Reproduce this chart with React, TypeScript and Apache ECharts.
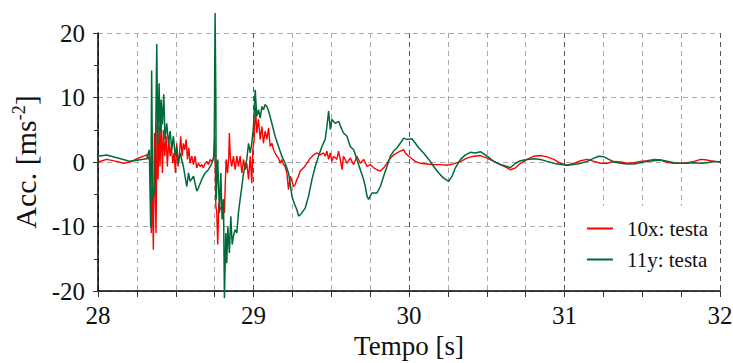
import React, { useEffect, useRef } from "react";
import * as echarts from "echarts";

const xTicks = [28, 29, 30, 31, 32];
const yTicks = [-20, -10, 0, 10, 20];

const series10x: [number, number][] = [
  [28.0, 0.0], [28.056, 0.4], [28.12, 0.1], [28.163, -0.2], [28.206, 0.0], [28.249, 0.5],
  [28.292, 0.9], [28.313, 1.1], [28.324, 0.4], [28.33, 0.9], [28.337, -0.2], [28.343, -11.0],
  [28.35, -3.8], [28.356, -13.6], [28.363, 4.5], [28.369, -5.8], [28.373, -11.0], [28.38, 6.0],
  [28.386, -2.7], [28.393, 5.5], [28.399, -0.7], [28.406, 6.6], [28.414, -1.7], [28.421, 5.0],
  [28.429, 0.9], [28.438, 4.0], [28.446, -0.7], [28.455, 3.5], [28.464, 0.9], [28.472, 2.4],
  [28.481, -0.2], [28.489, 1.4], [28.498, -1.7], [28.506, 2.9], [28.515, -0.7], [28.524, 1.4],
  [28.532, 4.0], [28.541, 0.9], [28.549, 2.9], [28.558, 1.9], [28.567, 3.5], [28.575, 0.4],
  [28.584, 2.2], [28.592, -0.2], [28.603, 0.9], [28.614, -0.4], [28.624, 0.9], [28.635, -0.9],
  [28.646, -0.2], [28.657, -0.7], [28.667, -0.4], [28.678, -0.9], [28.689, -0.2], [28.7, 0.1],
  [28.71, -0.4], [28.721, 0.4], [28.732, 0.1], [28.742, 0.4], [28.751, 4.0], [28.758, -6.9],
  [28.764, -7.9], [28.77, -12.8], [28.777, -6.4], [28.785, -7.4], [28.796, -6.9], [28.807, -5.8],
  [28.813, -7.9], [28.818, -3.8], [28.824, 0.4], [28.833, -1.7], [28.841, 0.9], [28.845, 4.5],
  [28.852, 0.4], [28.86, -0.7], [28.871, 0.9], [28.882, -1.2], [28.893, 0.9], [28.903, -0.7],
  [28.914, 0.9], [28.925, -1.7], [28.936, 0.4], [28.946, -1.2], [28.957, -0.2], [28.968, -2.7],
  [28.979, 0.9], [28.989, -3.3], [28.996, 1.9], [29.004, 3.5], [29.013, 8.6], [29.021, 4.5],
  [29.032, 6.6], [29.043, 3.5], [29.054, 5.5], [29.064, 2.9], [29.075, 4.8], [29.086, 3.5],
  [29.097, 5.3], [29.107, 2.4], [29.118, 2.9], [29.129, 1.9], [29.139, 1.4], [29.15, 0.9],
  [29.161, 0.6], [29.172, -0.2], [29.182, 0.4], [29.193, -0.4], [29.204, -0.7], [29.215, -1.7],
  [29.225, -4.3], [29.236, -2.2], [29.247, -3.0], [29.258, -3.8], [29.268, -3.5], [29.279, -2.7],
  [29.29, -2.2], [29.3, -1.4], [29.322, -0.9], [29.343, -0.2], [29.365, 0.6], [29.386, 1.1],
  [29.408, 1.4], [29.429, 1.1], [29.451, 1.4], [29.461, 0.9], [29.472, 1.7], [29.483, 0.4],
  [29.494, 1.4], [29.504, 0.1], [29.515, 0.9], [29.536, 0.4], [29.547, 1.7], [29.558, 0.4],
  [29.569, -1.2], [29.579, 0.9], [29.601, -0.2], [29.622, 0.6], [29.644, -0.4], [29.665, 0.9],
  [29.687, -0.2], [29.708, 0.4], [29.73, -0.7], [29.751, -0.4], [29.773, -0.9], [29.794, -1.2],
  [29.816, -1.4], [29.837, -0.9], [29.858, -0.2], [29.88, 0.6], [29.901, 1.1], [29.923, 1.4],
  [29.944, 1.7], [29.966, 1.9], [29.976, 1.4], [29.998, 0.9], [30.019, 0.5], [30.041, 0.1],
  [30.073, -0.2], [30.116, -0.3], [30.159, -0.4], [30.202, -0.4], [30.245, -0.5], [30.288, -0.3],
  [30.331, 0.1], [30.373, 0.6], [30.416, 0.9], [30.459, 1.0], [30.502, 0.6], [30.545, 0.1],
  [30.588, -0.4], [30.631, -0.9], [30.652, -1.2], [30.685, -0.9], [30.717, -0.2], [30.76, 0.4],
  [30.803, 0.9], [30.846, 1.0], [30.888, 0.8], [30.931, 0.4], [30.974, -0.2], [31.017, -0.5],
  [31.06, -0.2], [31.103, 0.2], [31.146, 0.4], [31.189, 0.1], [31.232, -0.2], [31.275, -0.2],
  [31.318, 0.1], [31.361, 0.0], [31.403, -0.2], [31.446, -0.1], [31.489, 0.1], [31.532, 0.2],
  [31.575, 0.4], [31.618, 0.3], [31.661, -0.1], [31.704, -0.2], [31.747, -0.2], [31.79, -0.1],
  [31.833, 0.1], [31.876, 0.4], [31.918, 0.3], [31.961, 0.1], [32.0, 0.0],
];

const series11y: [number, number][] = [
  [28.0, 0.9], [28.056, 1.1], [28.163, 0.4], [28.206, 0.1], [28.313, 0.5], [28.33, 1.9],
  [28.339, -10.2], [28.345, 14.2], [28.352, -5.8], [28.367, -3.8], [28.378, 18.3], [28.384, 2.9],
  [28.393, 12.2], [28.399, 4.5], [28.406, 9.7], [28.414, 5.8], [28.423, 10.5], [28.431, 3.5],
  [28.442, 6.0], [28.453, 2.9], [28.464, 4.8], [28.474, 1.9], [28.485, 4.0], [28.496, 0.9],
  [28.506, 2.4], [28.517, -0.2], [28.528, 1.4], [28.549, -0.7], [28.571, -3.8], [28.582, -1.7],
  [28.592, -3.0], [28.614, -2.2], [28.635, -4.5], [28.646, -4.0], [28.667, -2.7], [28.689, -1.7],
  [28.71, -1.2], [28.732, -0.2], [28.747, 0.9], [28.753, 23.1], [28.758, 9.7], [28.76, -5.8],
  [28.77, 0.4], [28.781, -7.9], [28.79, -1.7], [28.798, -8.9], [28.807, -5.8], [28.813, -21.1],
  [28.822, -11.0], [28.828, -15.7], [28.835, -10.0], [28.845, -14.1], [28.854, -8.4], [28.863, -12.8],
  [28.871, -11.5], [28.882, -10.5], [28.893, -11.0], [28.903, -7.9], [28.914, -5.8], [28.925, -3.8],
  [28.936, -1.7], [28.957, 0.4], [28.968, 2.9], [28.979, 1.4], [28.989, 2.9], [29.0, 5.5],
  [29.011, 11.2], [29.021, 7.1], [29.032, 8.1], [29.043, 6.8], [29.054, 8.6], [29.064, 8.1],
  [29.075, 8.9], [29.086, 8.6], [29.097, 7.9], [29.118, 6.0], [29.139, 4.0], [29.161, 2.4],
  [29.182, 0.9], [29.204, -0.2], [29.225, -1.7], [29.236, -3.3], [29.247, -5.3], [29.262, -6.4],
  [29.279, -7.4], [29.29, -8.4], [29.311, -7.9], [29.333, -7.1], [29.354, -5.3], [29.376, -2.7],
  [29.397, -0.7], [29.418, 0.9], [29.44, 2.4], [29.461, 3.5], [29.472, 5.5], [29.483, 7.9],
  [29.494, 5.0], [29.504, 6.6], [29.526, 6.0], [29.547, 6.3], [29.569, 5.0], [29.579, 4.5],
  [29.601, 4.0], [29.622, 2.4], [29.644, 1.9], [29.665, 0.4], [29.687, -1.2], [29.708, -2.7],
  [29.719, -3.8], [29.73, -5.3], [29.74, -5.8], [29.762, -4.8], [29.794, -4.8], [29.816, -3.8],
  [29.837, -2.2], [29.858, -0.7], [29.88, 0.9], [29.901, 1.7], [29.923, 2.2], [29.944, 2.9],
  [29.966, 3.7], [29.987, 3.5], [30.019, 3.6], [30.041, 2.9], [30.062, 2.2], [30.094, 1.4],
  [30.127, 0.4], [30.159, -0.7], [30.191, -1.7], [30.223, -2.5], [30.255, -3.0], [30.277, -2.2],
  [30.298, -0.9], [30.331, 0.4], [30.363, 1.1], [30.395, 1.5], [30.427, 1.4], [30.459, 1.6],
  [30.502, 0.9], [30.545, 0.1], [30.588, -0.4], [30.631, -0.7], [30.652, -0.9], [30.685, -0.2],
  [30.717, 0.2], [30.76, 0.4], [30.803, 0.5], [30.846, 0.4], [30.888, 0.1], [30.931, -0.2],
  [30.974, -0.4], [31.017, -0.5], [31.06, -0.4], [31.103, -0.2], [31.146, 0.1], [31.189, 0.6],
  [31.221, 0.9], [31.253, 0.8], [31.285, 0.4], [31.318, 0.0], [31.361, -0.2], [31.403, -0.3],
  [31.446, -0.3], [31.489, -0.1], [31.532, 0.1], [31.575, 0.2], [31.618, 0.3], [31.661, 0.1],
  [31.704, -0.1], [31.747, -0.2], [31.79, -0.2], [31.833, -0.1], [31.876, -0.2], [31.918, -0.1],
  [31.961, 0.1], [32.0, 0.0],
];

const seriesNames = ["10x: testa", "11y: testa"];
const seriesColors = ["#ff0000", "#006b38"];

const FONT = "Liberation Serif";

export default function App() {
  const ref = useRef<HTMLDivElement>(null);

  useEffect(() => {
    document.body.style.margin = "0";
    if (!ref.current) return;
    const chart = echarts.init(ref.current, null, { renderer: "svg" });
    chart.setOption({
      animation: false,
      backgroundColor: "#ffffff",
      textStyle: { fontFamily: FONT },
      grid: { left: 98, right: 13, top: 33, bottom: 72, containLabel: false, outerBoundsMode: "none" },
      legend: {
        orient: "vertical",
        right: 16,
        bottom: 73,
        backgroundColor: "#ffffff",
        padding: [12, 9, 20, 21],
        itemGap: 10,
        itemWidth: 26,
        itemHeight: 2,
        icon: "rect",
        data: seriesNames,
        textStyle: { fontFamily: FONT, fontSize: 21, color: "#111", padding: [0, 0, 0, 9] },
      },
      xAxis: {
        type: "value",
        min: xTicks[0],
        max: xTicks[xTicks.length - 1],
        interval: 1,
        name: "Tempo [s]",
        nameLocation: "middle",
        nameGap: 40,
        nameTextStyle: { fontFamily: FONT, fontSize: 27, color: "#111" },
        axisLine: { show: true, onZero: false, lineStyle: { color: "#000", width: 1.5 } },
        axisTick: { show: true, length: 6, lineStyle: { color: "#333" } },
        minorTick: { show: true, splitNumber: 4, length: 6, lineStyle: { color: "#333" } },
        axisLabel: { fontFamily: FONT, fontSize: 25, color: "#111", margin: 12 },
        splitLine: { show: true, lineStyle: { color: "#555", type: [5, 4], width: 1 } },
        minorSplitLine: { show: true, lineStyle: { color: "#aaa", type: [5, 4], width: 1 } },
      },
      yAxis: {
        type: "value",
        min: yTicks[0],
        max: yTicks[yTicks.length - 1],
        interval: 10,
        name: "{a|Acc. [ms}{s|-2}{a|]}",
        nameLocation: "middle",
        nameGap: 54,
        nameTextStyle: {
          rich: {
            a: { fontFamily: FONT, fontSize: 30, color: "#111", lineHeight: 32 },
            s: { fontFamily: FONT, fontSize: 18, color: "#111", verticalAlign: "top", lineHeight: 16 },
          },
        },
        axisLine: { show: true, lineStyle: { color: "#000", width: 1.5 } },
        axisTick: { show: true, length: 5, lineStyle: { color: "#333" } },
        minorTick: { show: true, splitNumber: 2, length: 4, lineStyle: { color: "#333" } },
        axisLabel: { fontFamily: FONT, fontSize: 25, color: "#111", margin: 13, padding: [10, 0, 0, 0] },
        splitLine: { show: true, lineStyle: { color: "#aaa", type: [5, 4], width: 1 } },
        minorSplitLine: { show: false },
      },
      series: [
        {
          name: seriesNames[0],
          type: "line",
          data: series10x,
          showSymbol: false,
          symbol: "none",
          clip: false,
          color: seriesColors[0],
          lineStyle: { color: seriesColors[0], width: 1.4 },
        },
        {
          name: seriesNames[1],
          type: "line",
          data: series11y,
          showSymbol: false,
          symbol: "none",
          clip: false,
          color: seriesColors[1],
          lineStyle: { color: seriesColors[1], width: 1.5 },
        },
      ],
    });
    return () => chart.dispose();
  }, []);

  return (
    <div
      ref={ref}
      style={{ position: "absolute", left: 0, top: 0, width: 733, height: 363 }}
    />
  );
}
